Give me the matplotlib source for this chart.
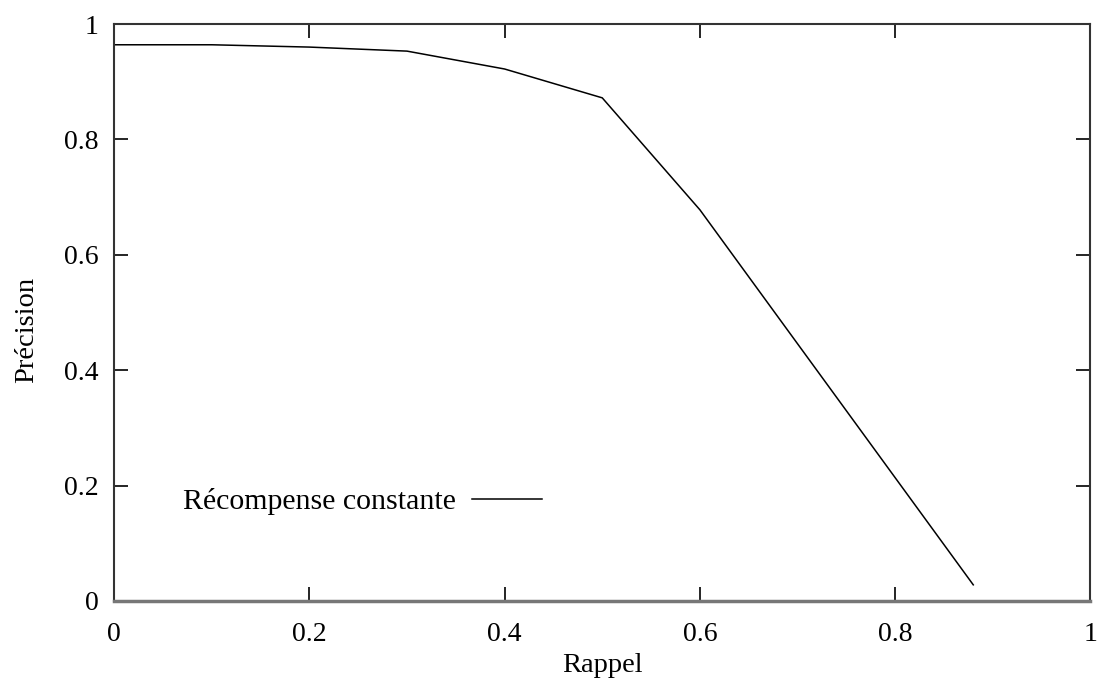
import matplotlib.pyplot as plt

# recall / precision values
rappel = [0.0, 0.1, 0.2, 0.3, 0.4, 0.5, 0.6, 0.88]
precision = [0.964, 0.964, 0.960, 0.953, 0.922, 0.872, 0.678, 0.028]
ticks = [0, 0.2, 0.4, 0.6, 0.8, 1]
tick_labels = ["0", "0.2", "0.4", "0.6", "0.8", "1"]

plt.rcParams["font.family"] = ["Liberation Serif", "DejaVu Serif"]

fig = plt.figure(figsize=(10.97, 6.78), dpi=100)
ax = fig.add_axes([0.104, 0.1136, 0.890, 0.851])

ax.plot(rappel, precision, color="black", linewidth=1.1, label="Récompense constante")

ax.set_xlim(0, 1)
ax.set_ylim(0, 1)
ax.set_xticks(ticks)
ax.set_xticklabels(tick_labels)
ax.set_yticks(ticks)
ax.set_yticklabels(tick_labels)
ax.tick_params(axis="both", direction="in", length=10, width=1.2,
               top=True, right=True, labelsize=20)
ax.tick_params(axis="x", pad=15)
ax.tick_params(axis="y", pad=11)
for s in ax.spines.values():
    s.set_linewidth(1.5)
    s.set_color("#333333")
ax.spines["bottom"].set_linewidth(2.5)
ax.spines["bottom"].set_color("#777777")

ax.set_xlabel("Rappel", fontsize=20.5)
ax.set_ylabel("Précision", fontsize=20.5)
ax.xaxis.set_label_coords(0.5, -0.09)
ax.yaxis.set_label_coords(-0.077, 0.47)

# legend: text first, then the line sample (gnuplot style)
ax.legend(loc="center left", bbox_to_anchor=(0.043, 0.172), frameon=False,
          markerfirst=False, fontsize=21.5, handlelength=2.35, handletextpad=0.55)

plt.savefig("out.png", dpi=100)
